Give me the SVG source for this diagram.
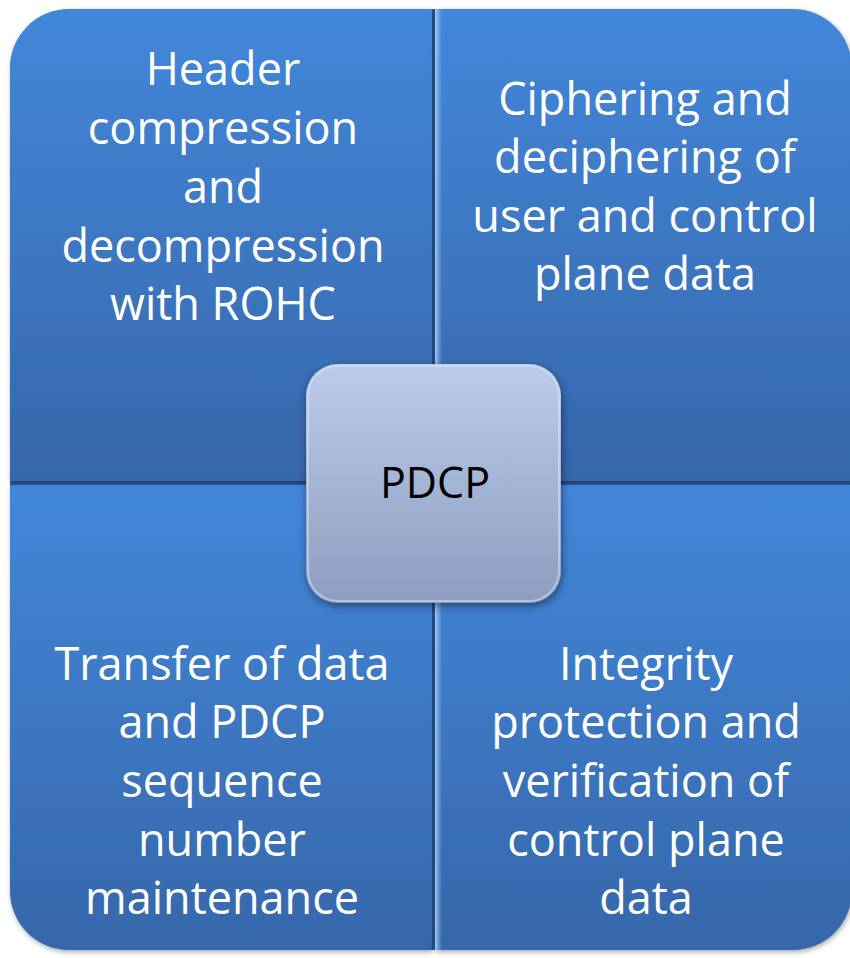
<svg xmlns="http://www.w3.org/2000/svg" width="850" height="958" viewBox="0 0 850 958">
  <style>
    .q { filter: url(#shadow); }
    .qt { font-family: "Open Sans", "Liberation Sans", sans-serif; font-size: 45px; fill: #ffffff; text-anchor: middle; }
    .ct { font-family: "Open Sans", "Liberation Sans", sans-serif; font-size: 43px; fill: #000000; text-anchor: middle; }
  </style>
  <defs>
    <linearGradient id="gBlue" x1="0" y1="0" x2="0" y2="1">
      <stop offset="0" stop-color="#4387da"/>
      <stop offset="1" stop-color="#3667aa"/>
    </linearGradient>
    <linearGradient id="gCenter" x1="0" y1="0" x2="0" y2="1">
      <stop offset="0" stop-color="#bccbeb"/>
      <stop offset="1" stop-color="#8c9dbf"/>
    </linearGradient>
    <linearGradient id="gEdgeV" x1="0" y1="0" x2="1" y2="0">
      <stop offset="0" stop-color="#9cc9f8" stop-opacity="1"/>
      <stop offset="1" stop-color="#8fc1f6" stop-opacity="0"/>
    </linearGradient>
    <filter id="shadow" x="-10%" y="-10%" width="120%" height="120%">
      <feDropShadow dx="1" dy="2" stdDeviation="2.5" flood-color="#000" flood-opacity="0.35"/>
    </filter>
    <filter id="shadowC" x="-15%" y="-15%" width="130%" height="130%">
      <feDropShadow dx="1" dy="3" stdDeviation="4" flood-color="#000" flood-opacity="0.45"/>
    </filter>
  </defs>

  <rect x="432" y="9" width="3" height="941" fill="#2e5b97"/>
  <rect x="10" y="480" width="842" height="6" fill="#2e5b97"/>

  <g id="node-header">
    <path class="q" d="M10,69 A59,59 0 0 1 69,9 H432 V481 H10 Z" fill="url(#gBlue)"/>
    <text class="qt" x="223" y="85">Header</text>
    <text class="qt" x="223" y="144">compression</text>
    <text class="qt" x="223" y="203">and</text>
    <text class="qt" x="223" y="262">decompression</text>
    <text class="qt" x="223" y="320">with ROHC</text>
  </g>

  <g id="node-ciphering">
    <path class="q" d="M435,9 H793 A59,59 0 0 1 852,68 V481 H435 Z" fill="url(#gBlue)"/>
    <rect x="435" y="9" width="7" height="472" fill="url(#gEdgeV)"/>
    <text class="qt" x="645" y="115">Ciphering and</text>
    <text class="qt" x="645" y="173">deciphering of</text>
    <text class="qt" x="645" y="232">user and control</text>
    <text class="qt" x="645" y="290">plane data</text>
  </g>

  <g id="node-transfer">
    <path class="q" d="M10,485 H432 V950 H69 A59,59 0 0 1 10,891 Z" fill="url(#gBlue)"/>
    <text class="qt" x="222" y="680">Transfer of data</text>
    <text class="qt" x="222" y="738">and PDCP</text>
    <text class="qt" x="222" y="797">sequence</text>
    <text class="qt" x="222" y="856">number</text>
    <text class="qt" x="222" y="914">maintenance</text>
  </g>

  <g id="node-integrity">
    <path class="q" d="M435,485 H852 V891 A59,59 0 0 1 793,950 H435 Z" fill="url(#gBlue)"/>
    <rect x="435" y="485" width="7" height="465" fill="url(#gEdgeV)"/>
    <text class="qt" x="646" y="680">Integrity</text>
    <text class="qt" x="646" y="738">protection and</text>
    <text class="qt" x="646" y="797">verification of</text>
    <text class="qt" x="646" y="856">control plane</text>
    <text class="qt" x="646" y="914">data</text>
  </g>

  <g id="connectors"></g>

  <g id="node-pdcp">
    <rect x="306" y="364" width="255" height="239" rx="32" ry="32" fill="url(#gCenter)" filter="url(#shadowC)"/>
    <rect x="308" y="366" width="251" height="235" rx="30" ry="30" fill="none" stroke="#dfe7f7" stroke-opacity="0.5" stroke-width="2"/>
    <text class="ct" x="435" y="498">PDCP</text>
  </g>
</svg>
